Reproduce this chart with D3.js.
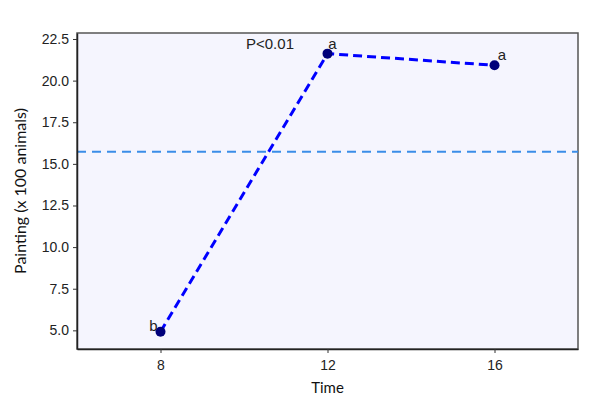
<!DOCTYPE html>
<html>
<head>
<meta charset="utf-8">
<script src="https://cdn.jsdelivr.net/npm/d3@7"></script>
<style>
    body { margin: 0; background: #fff; }
</style>
</head>
<body>
<div id="chart"></div>
<script>
const times = [8, 12, 16];
const painting = [4.92, 21.62, 20.92];
const letters = ["b", "a", "a"];
const meanLine = 15.72;
const xTicks = [8, 12, 16];
const yTicks = [5.0, 7.5, 10.0, 12.5, 15.0, 17.5, 20.0, 22.5];

(function () {
    const width = 609, height = 410;
    const margin = { left: 77, right: 31, top: 33, bottom: 61 };
    const svg = d3.select("#chart")
        .append("svg")
        .attr("width", width)
        .attr("height", height);

    const x = d3.scaleLinear()
        .domain([6, 18])
        .range([margin.left, width - margin.right]);
    const y = d3.scaleLinear()
        .domain([3.88, 22.86])
        .range([height - margin.bottom, margin.top]);

    // panel
    svg.append("rect")
        .attr("x", margin.left)
        .attr("y", margin.top)
        .attr("width", width - margin.left - margin.right)
        .attr("height", height - margin.top - margin.bottom)
        .attr("fill", "#f5f5fe")
        .attr("stroke", "#555")
        .attr("stroke-width", 1.5);

    // mean line
    svg.append("line")
        .attr("x1", margin.left)
        .attr("x2", width - margin.right)
        .attr("y1", y(meanLine))
        .attr("y2", y(meanLine))
        .attr("stroke", "#3a8de8")
        .attr("stroke-width", 2)
        .attr("stroke-dasharray", "9,6");

    // axes
    const styleAxis = g => {
        g.select(".domain").attr("stroke", "#222").attr("stroke-width", 1.5);
        g.selectAll(".tick line").attr("stroke", "#333");
        g.selectAll("text")
            .attr("fill", "#222")
            .attr("font-family", "Liberation Sans, Arial, sans-serif")
            .attr("font-size", 14);
    };
    svg.append("g")
        .attr("transform", `translate(0,${height - margin.bottom})`)
        .call(d3.axisBottom(x).tickValues(xTicks).tickSize(4).tickSizeOuter(0).tickPadding(7))
        .call(styleAxis);
    svg.append("g")
        .attr("transform", `translate(${margin.left},0)`)
        .call(d3.axisLeft(y).tickValues(yTicks).tickFormat(d3.format(".1f")).tickSize(4).tickSizeOuter(0).tickPadding(4))
        .call(styleAxis);

    // axis titles
    svg.append("text")
        .text("Time")
        .attr("x", x(12))
        .attr("y", 393)
        .attr("text-anchor", "middle")
        .attr("font-family", "Lato, sans-serif")
        .attr("font-size", 15)
        .attr("fill", "#111");
    svg.append("text")
        .text("Painting (x 100 animals)")
        .attr("transform", `translate(26,${(margin.top + height - margin.bottom) / 2}) rotate(-90)`)
        .attr("text-anchor", "middle")
        .attr("font-family", "Lato, sans-serif")
        .attr("font-size", 16)
        .attr("fill", "#111");

    // line + points
    const line = d3.line()
        .x((d, i) => x(times[i]))
        .y(d => y(d));
    svg.append("path")
        .datum(painting)
        .attr("d", line)
        .attr("fill", "none")
        .attr("stroke", "#0000ff")
        .attr("stroke-width", 3)
        .attr("stroke-dasharray", "9,5");
    svg.append("g")
        .selectAll("circle")
        .data(painting)
        .join("circle")
        .attr("cx", (d, i) => x(times[i]))
        .attr("cy", d => y(d))
        .attr("r", 5)
        .attr("fill", "#00007a");

    // letters
    const dx = [-7, 5, 7.5];
    const dy = [-1, -5, -5];
    svg.append("g")
        .attr("font-family", "Liberation Sans, Arial, sans-serif")
        .attr("font-size", 15)
        .attr("fill", "#222")
        .selectAll("text")
        .data(letters)
        .join("text")
        .attr("x", (d, i) => x(times[i]) + dx[i])
        .attr("y", (d, i) => y(painting[i]) + dy[i])
        .attr("text-anchor", "middle")
        .text(d => d);

    svg.append("text")
        .text("P<0.01")
        .attr("x", 270)
        .attr("y", 49)
        .attr("text-anchor", "middle")
        .attr("font-family", "Liberation Sans, Arial, sans-serif")
        .attr("font-size", 15)
        .attr("fill", "#222");
})();
</script>
</body>
</html>
